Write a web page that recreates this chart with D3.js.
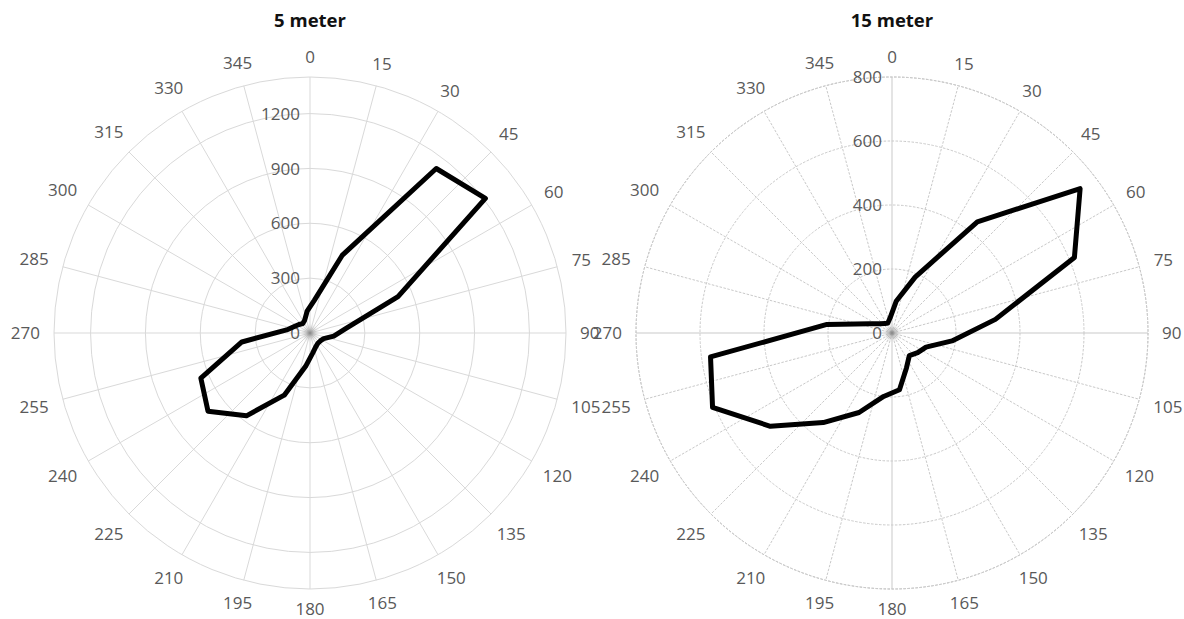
<!DOCTYPE html>
<html>
<head>
<meta charset="utf-8">
<script src="https://cdn.jsdelivr.net/npm/d3@7/dist/d3.min.js"></script>
<style>
  html, body { margin: 0; padding: 0; background: #fff; }
  svg { display: block; }
  text { font-family: "Open Sans", "DejaVu Sans", sans-serif; }
</style>
</head>
<body>
<svg id="chart" width="1184" height="619"></svg>
<script>
// Direction labels around each dial (degrees, clockwise from north)
const directionTicks = [0, 15, 30, 45, 60, 75, 90, 105, 120, 135, 150, 165,
                        180, 195, 210, 225, 240, 255, 270, 285, 300, 315, 330, 345];

// Sector centre directions at which the series are measured
const sectorDirections = [7.5, 22.5, 37.5, 52.5, 67.5, 82.5, 97.5, 112.5,
                          127.5, 142.5, 157.5, 172.5, 187.5, 202.5, 217.5, 232.5,
                          247.5, 262.5, 277.5, 292.5, 307.5, 322.5, 337.5, 352.5];

// Series at 5 m height
const values5m = [180, 459, 1134, 1209, 521, 201, 131, 81, 71, 71, 82, 111,
                  184, 368, 571, 703, 646, 376, 129, 93, 76, 65, 76, 120];

// Series at 15 m height
const values15m = [100, 189, 438, 741, 617, 326, 189, 115, 101, 89, 118, 179,
                   200, 269, 353, 479, 607, 572, 205, 76, 48, 37, 34, 47];

// Radial axis settings for each dial
const radialTicks5m = [0, 300, 600, 900, 1200];
const radialMax5m = 1400;
const radialTicks15m = [0, 200, 400, 600, 800];
const radialMax15m = 800;

const titles = ["5 meter", "15 meter"];

const svg = d3.select("#chart");
const R = 256;

const defs = svg.append("defs");
const grad = defs.append("radialGradient").attr("id", "hub");
grad.append("stop").attr("offset", "0%").attr("stop-color", "#7a7a7a").attr("stop-opacity", 0.9);
grad.append("stop").attr("offset", "35%").attr("stop-color", "#a0a0a0").attr("stop-opacity", 0.5);
grad.append("stop").attr("offset", "100%").attr("stop-color", "#ffffff").attr("stop-opacity", 0);

function drawDial(cx, cy, title, values, ticks, maxVal, dashed) {
  const g = svg.append("g").attr("transform", `translate(${cx},${cy})`);
  const r = d3.scaleLinear().domain([0, maxVal]).range([0, R]);
  const toRad = d => d * Math.PI / 180;
  const gridColor = dashed ? "#c9c9c9" : "#d9d9d9";
  const dash = dashed ? "2.5,1.5" : null;

  // concentric rings
  const rings = ticks.filter(t => t > 0);
  g.selectAll("circle.ring").data(rings).join("circle")
    .attr("class", "ring")
    .attr("r", d => r(d))
    .attr("fill", "none")
    .attr("stroke", gridColor)
    .attr("stroke-width", 1)
    .attr("stroke-dasharray", dash);

  // outer boundary
  g.append("circle")
    .attr("r", r(maxVal))
    .attr("fill", "none")
    .attr("stroke", gridColor)
    .attr("stroke-width", 1)
    .attr("stroke-dasharray", dash);

  // spokes
  g.selectAll("line.spoke").data(directionTicks).join("line")
    .attr("class", "spoke")
    .attr("x1", 0).attr("y1", 0)
    .attr("x2", d => r(maxVal) * Math.sin(toRad(d)))
    .attr("y2", d => -r(maxVal) * Math.cos(toRad(d)))
    .attr("stroke", gridColor)
    .attr("stroke-width", 1)
    .attr("stroke-dasharray", d => (d % 90 === 0) ? null : dash);

  // hub
  g.append("circle").attr("r", 11).attr("fill", "url(#hub)");

  // direction labels
  const gap = 14;
  g.selectAll("text.dir").data(directionTicks).join("text")
    .attr("class", "dir")
    .attr("font-size", 17)
    .attr("fill", "#595959")
    .attr("text-anchor", "middle")
    .attr("dy", "0.36em")
    .text(d => d)
    .each(function(d) {
      const w = this.getComputedTextLength();
      const a = toRad(d);
      const s = Math.sin(a), c = Math.cos(a);
      const dist = R + gap + (w / 2) * Math.abs(s) + 6 * Math.abs(c);
      d3.select(this).attr("x", dist * s).attr("y", -dist * c);
    });

  // radial value labels along the north spoke
  g.selectAll("text.rad").data(ticks).join("text")
    .attr("class", "rad")
    .attr("font-size", 17)
    .attr("fill", "#595959")
    .attr("text-anchor", "end")
    .attr("dy", "0.36em")
    .attr("x", -10)
    .attr("y", d => -r(d))
    .text(d => d);

  // data outline
  const pts = sectorDirections.map((dir, i) => [toRad(dir), r(values[i])]);
  const line = d3.lineRadial()
    .angle(d => d[0])
    .radius(d => d[1])
    .curve(d3.curveLinearClosed);
  g.append("path")
    .attr("d", line(pts))
    .attr("fill", "none")
    .attr("stroke", "#000")
    .attr("stroke-width", 5)
    .attr("stroke-linejoin", "round");

  // title
  svg.append("text")
    .attr("x", cx)
    .attr("y", 27)
    .attr("text-anchor", "middle")
    .attr("font-size", 18.5)
    .attr("font-weight", "bold")
    .attr("fill", "#111")
    .text(title);
}

drawDial(310, 333, titles[0], values5m, radialTicks5m, radialMax5m, false);
drawDial(892, 333, titles[1], values15m, radialTicks15m, radialMax15m, true);
</script>
</body>
</html>
